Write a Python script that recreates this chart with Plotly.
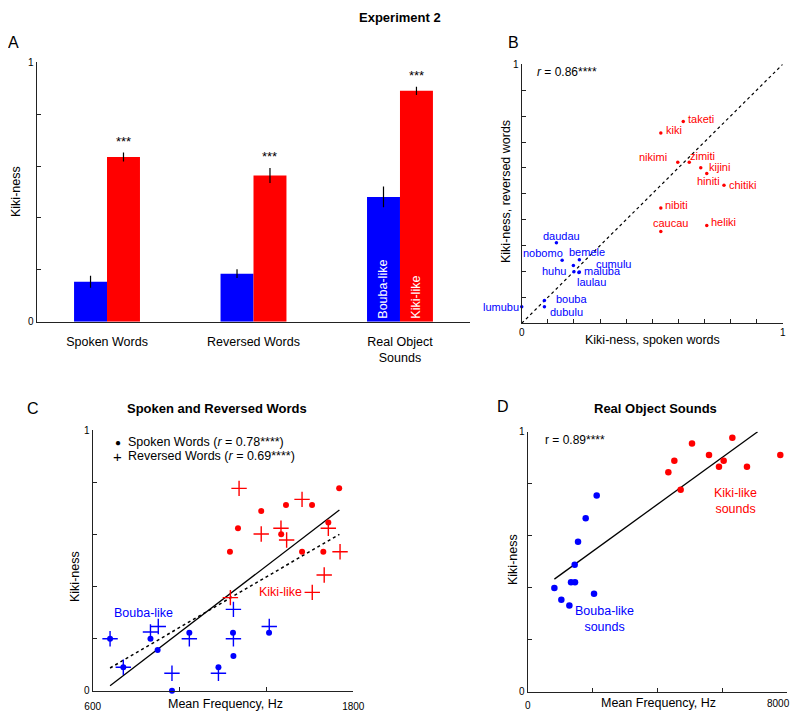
import plotly.graph_objects as go

# the page has an 8px body margin, so the figure is 16px smaller than the window
W, H = 784, 704
OFF = 8
FONT = "Liberation Sans, Arial, sans-serif"
BLUE = "#0000ff"
RED = "#ff0000"

# ---- panel A: mean kiki-ness per condition ----
conditions = ["Spoken Words", "Reversed Words", "Real Object<br>Sounds"]
bouba_mean = [0.154, 0.185, 0.481]
bouba_err = [0.023, 0.017, 0.040]
kiki_mean = [0.635, 0.564, 0.890]
kiki_err = [0.017, 0.029, 0.016]
signif = ["***", "***", "***"]

# ---- panel B: spoken vs reversed kiki-ness per word ----
words = ["taketi", "kiki", "nikimi", "zimiti", "kijini", "hiniti", "chitiki", "nibiti",
         "caucau", "heliki", "daudau", "nobomo", "bemele", "huhu", "cumulu", "maluba",
         "laulau", "bouba", "dubulu", "lumubu"]
word_kind = ["kiki"] * 10 + ["bouba"] * 10
spoken_k = [0.619, 0.533, 0.598, 0.642, 0.686, 0.709, 0.775, 0.533, 0.533, 0.709,
            0.133, 0.155, 0.221, 0.198, 0.200, 0.221, 0.219, 0.087, 0.087, 0.0]
reversed_k = [0.779, 0.735, 0.622, 0.622, 0.601, 0.578, 0.533, 0.445, 0.354, 0.378,
              0.311, 0.243, 0.245, 0.223, 0.199, 0.198, 0.196, 0.088, 0.064, 0.064]
# label placement (anchor, x shift, y shift in px)
label_pos = [("left", 3, 3), ("left", 3, 3), ("right", -9, 5), ("left", -1, 6),
             ("left", 6, 1), ("center", 2, -7), ("left", 3, 0), ("left", 2, 3),
             ("center", 10, 9), ("left", 2, 3), ("center", 5, 7), ("center", -19, 7),
             ("center", 8, 8), ("right", -5, -5), ("left", 20, 8), ("left", 3, 1),
             ("center", 13, -9), ("left", 10, 2), ("left", 4, -5), ("right", -1, 0)]
r_words = "<i>r</i> = 0.86****"

# ---- panel C: frequency vs kiki-ness, words ----
sp_kiki_hz = [1735, 1610, 1490, 1376, 1269, 1468, 1685, 1232, 1564, 1662]
sp_kiki_k = [0.777, 0.712, 0.712, 0.689, 0.623, 0.600, 0.645, 0.533, 0.533, 0.533]
rv_kiki_hz = [1274, 1564, 1467, 1685, 1376, 1493, 1739, 1666, 1611, 1234]
rv_kiki_k = [0.776, 0.734, 0.623, 0.623, 0.601, 0.578, 0.533, 0.444, 0.377, 0.357]
sp_bouba_hz = [680, 866, 899, 1045, 965, 1179, 1246, 1248, 1412, 741]
sp_bouba_k = [0.199, 0.199, 0.156, 0.222, 0.0, 0.090, 0.222, 0.133, 0.222, 0.090]
rv_bouba_hz = [680, 741, 866, 902, 1045, 965, 1179, 1248, 1248, 1413]
rv_bouba_k = [0.199, 0.090, 0.225, 0.246, 0.199, 0.067, 0.067, 0.312, 0.199, 0.246]
fit_sp_hz = [680, 1736]
fit_sp_k = [0.019, 0.693]
fit_rv_hz = [680, 1736]
fit_rv_k = [0.087, 0.600]

# ---- panel D: frequency vs kiki-ness, object sounds ----
obj_kiki_hz = [4334, 4519, 4714, 5063, 5587, 5895, 6039, 6306, 6757, 7784]
obj_kiki_k = [0.844, 0.888, 0.777, 0.955, 0.910, 0.865, 0.888, 0.977, 0.865, 0.910]
obj_bouba_hz = [822, 1037, 1284, 1335, 1458, 1448, 1551, 1787, 2044, 2126]
obj_bouba_k = [0.399, 0.354, 0.332, 0.421, 0.421, 0.488, 0.577, 0.667, 0.377, 0.755]
fit_obj_hz = [822, 7086]
fit_obj_k = [0.433, 1.0]


def px(x):
    return (x - OFF) / W


def py(y):
    return 1 - (y - OFF) / H


def axis(domain, rng, tickvals, ticktext, **kw):
    d = dict(domain=domain, range=rng, showline=True, linecolor="#222", linewidth=1.3,
             ticks="inside", ticklen=4, tickwidth=1, tickcolor="#222", automargin=False,
             tickvals=tickvals, ticktext=ticktext, showgrid=False, zeroline=False,
             tickfont=dict(size=10, color="black", family=FONT))
    d.update(kw)
    return d


fig = go.Figure()

# panel A bars
xs = [0, 1, 2]
fig.add_trace(go.Bar(x=xs, y=bouba_mean, marker_color=BLUE, marker_line_width=0,
                     error_y=dict(type="data", array=bouba_err, color="black", thickness=1.2, width=0),
                     text=["", "", "Bouba-like"], textposition="inside", insidetextanchor="start",
                     textangle=-90, textfont=dict(color="white", size=12.5, family=FONT),
                     xaxis="x", yaxis="y", showlegend=False))
fig.add_trace(go.Bar(x=xs, y=kiki_mean, marker_color=RED, marker_line_width=0,
                     error_y=dict(type="data", array=kiki_err, color="black", thickness=1.2, width=0),
                     text=["", "", "Kiki-like"], textposition="inside", insidetextanchor="start",
                     textangle=-90, textfont=dict(color="white", size=12.5, family=FONT),
                     xaxis="x", yaxis="y", showlegend=False))

# panel B
fig.add_trace(go.Scatter(x=[0, 1], y=[0, 1], mode="lines", line=dict(color="black", width=1.2, dash="dot"),
                         xaxis="x2", yaxis="y2", showlegend=False))
fig.add_trace(go.Scatter(x=spoken_k, y=reversed_k, mode="markers", cliponaxis=False,
                         marker=dict(size=3.5, color=[RED if k == "kiki" else BLUE for k in word_kind]),
                         xaxis="x2", yaxis="y2", showlegend=False))

# panel C
fig.add_trace(go.Scatter(x=fit_sp_hz, y=fit_sp_k, mode="lines", line=dict(color="black", width=1.3),
                         xaxis="x3", yaxis="y3", showlegend=False))
fig.add_trace(go.Scatter(x=fit_rv_hz, y=fit_rv_k, mode="lines", line=dict(color="black", width=1.5, dash="dot"),
                         xaxis="x3", yaxis="y3", showlegend=False))
for hz, k, col in [(sp_kiki_hz, sp_kiki_k, RED), (sp_bouba_hz, sp_bouba_k, BLUE)]:
    fig.add_trace(go.Scatter(x=hz, y=k, mode="markers", cliponaxis=False,
                             marker=dict(size=6, color=col), xaxis="x3", yaxis="y3", showlegend=False))
for hz, k, col in [(rv_kiki_hz, rv_kiki_k, RED), (rv_bouba_hz, rv_bouba_k, BLUE)]:
    fig.add_trace(go.Scatter(x=hz, y=k, mode="markers", cliponaxis=False,
                             marker=dict(size=11, symbol="cross-thin", line=dict(color=col, width=1.4)),
                             xaxis="x3", yaxis="y3", showlegend=False))

# panel D
fig.add_trace(go.Scatter(x=fit_obj_hz, y=fit_obj_k, mode="lines", line=dict(color="black", width=1.3),
                         xaxis="x4", yaxis="y4", showlegend=False))
fig.add_trace(go.Scatter(x=obj_kiki_hz, y=obj_kiki_k, mode="markers", cliponaxis=False,
                         marker=dict(size=6.5, color=RED), xaxis="x4", yaxis="y4", showlegend=False))
fig.add_trace(go.Scatter(x=obj_bouba_hz, y=obj_bouba_k, mode="markers", cliponaxis=False,
                         marker=dict(size=6.5, color=BLUE), xaxis="x4", yaxis="y4", showlegend=False))

ann = []


def text(x, y, s, size=12.5, **kw):
    d = dict(x=x, y=y, xref="paper", yref="paper", text=s, showarrow=False,
             xanchor="center", yanchor="middle",
             font=dict(size=size, color=kw.pop("color", "black"), family=FONT))
    d.update(kw)
    ann.append(d)


# titles and panel letters
text(px(400), 1.0, "<b>Experiment 2</b>", size=13, yanchor="top")
text(px(217), py(408), "<b>Spoken and Reversed Words</b>", size=13)
text(px(655), py(408), "<b>Real Object Sounds</b>", size=13)
for lt, (lx, ly) in zip("ABCD", [(13, 42), (513, 43), (33, 408), (503, 406)]):
    text(px(lx), py(ly), lt, size=16)

# panel A extras
for i, s in enumerate(signif):
    ann.append(dict(x=i + 0.112, y=kiki_mean[i] + kiki_err[i], xref="x", yref="y", text=s,
                    showarrow=False, xanchor="center", yanchor="bottom", yshift=2,
                    font=dict(size=13, color="black", family=FONT)))
text(px(16), py(192), "Kiki-ness", size=12.5, textangle=-90)

# panel B labels
for w, xv, yv, k, (anc, dx, dy) in zip(words, spoken_k, reversed_k, word_kind, label_pos):
    ann.append(dict(x=xv, y=yv, xref="x2", yref="y2", text=w, showarrow=False,
                    xanchor=anc, yanchor="middle", xshift=dx, yshift=dy,
                    font=dict(size=11, color=RED if k == "kiki" else BLUE, family=FONT)))
text(px(535), py(72), r_words, size=12, xanchor="left")
text(px(506), py(192), "Kiki-ness, reversed words", size=12.5, textangle=-90)
text(px(652), py(340), "Kiki-ness, spoken words", size=12.5)

# panel C labels
text(px(118), py(442), "●", size=10)
text(px(118), py(456), "+", size=15)
text(px(126), py(442), "Spoken Words (<i>r</i> = 0.78****)", size=12.5, xanchor="left")
text(px(126), py(456), "Reversed Words (<i>r</i> = 0.69****)", size=12.5, xanchor="left")
text(px(143), py(613), "Bouba-like", size=12.5, color=BLUE)
text(px(280), py(592), "Kiki-like", size=12.5, color=RED)
text(px(75), py(577), "Kiki-ness", size=12.5, textangle=-90)
text(px(225), py(704), "Mean Frequency, Hz", size=12.5)

# panel D labels
text(px(543), py(440), "r = 0.89****", size=12, xanchor="left")
text(px(735), py(501), "Kiki-like<br>sounds", size=12.5, color=RED)
text(px(604), py(619), "Bouba-like<br>sounds", size=12.5, color=BLUE)
text(px(513), py(560), "Kiki-ness", size=12.5, textangle=-90)
text(px(658), 0.0, "Mean Frequency, Hz", size=12.5, yanchor="bottom")
text(1.0, py(703), "8000", size=10, xanchor="right")

tick5 = [0, 0.2, 0.4, 0.6, 0.8, 1]
tick10 = [i / 10 for i in range(11)]

fig.update_layout(
    width=W, height=H, margin=dict(l=0, r=0, t=0, b=0),
    paper_bgcolor="white", plot_bgcolor="white",
    font=dict(family=FONT, color="black"),
    barmode="group", bargap=0.55, bargroupgap=0,
    xaxis=axis([px(36.7), px(470)], [-0.48, 2.478], xs, conditions, anchor="y", ticks="",
               tickfont=dict(size=12.5, color="black", family=FONT), ticklabelstandoff=8),
    yaxis=axis([py(321.7), py(62.3)], [0, 1], tick5, ["0", "", "", "", "", "1"], anchor="x"),
    xaxis2=axis([px(521.7), px(782.7)], [0, 1], tick10, ["0"] + [""] * 9 + ["1"], anchor="y2"),
    yaxis2=axis([py(323.3), py(64.3)], [0, 1], tick10, [""] * 10 + ["1"], anchor="x2"),
    xaxis3=axis([px(92.7), px(353.3)], [600, 1800], [600, 1000, 1400, 1800], ["600", "", "", "1800"],
                anchor="y3", ticklabelstandoff=6),
    yaxis3=axis([py(690.7), py(430)], [0, 1], tick5, ["0", "", "", "", "", "1"], anchor="x3"),
    xaxis4=axis([px(527.7), px(787.3)], [0, 8000], [0, 2000, 4000, 6000, 8000], ["0", "", "", "", ""],
                anchor="y4", ticklabelstandoff=4),
    yaxis4=axis([py(691.7), py(431.7)], [0, 1], tick5, ["0", "", "", "", "", "1"], anchor="x4"),
    annotations=ann,
)

fig.write_html("out.html")
